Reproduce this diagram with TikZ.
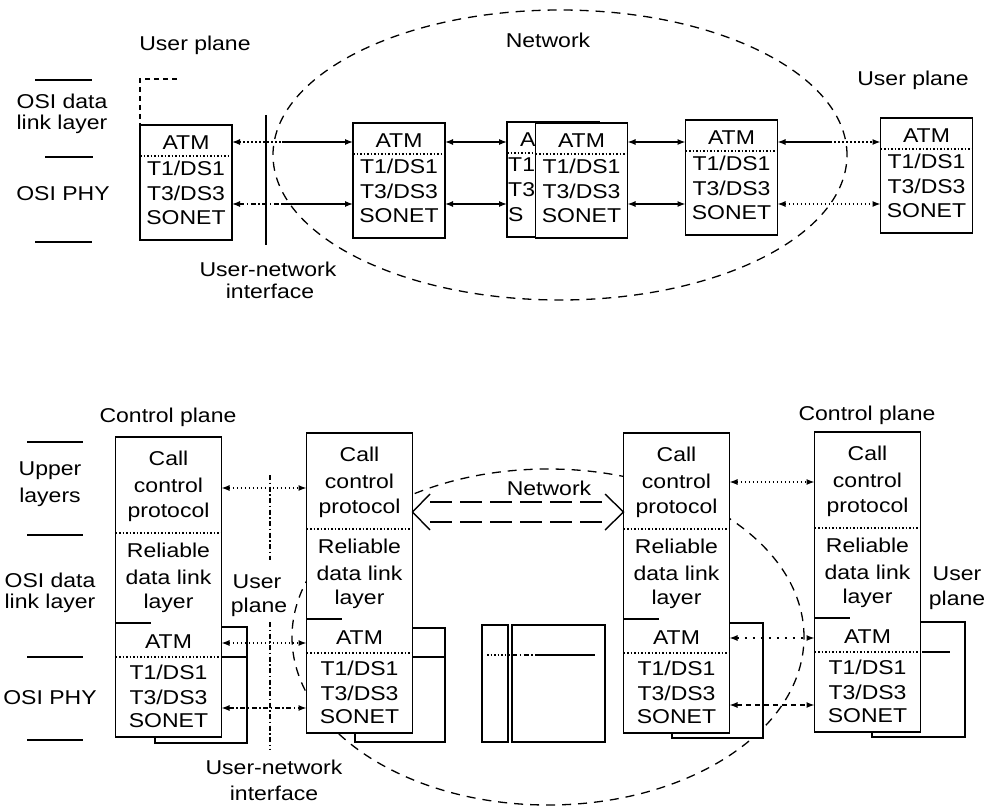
\documentclass[tikz,border=0pt]{standalone}
\usepackage{fontspec}
\setmainfont{Liberation Sans}[FakeStretch=1.15]
\usetikzlibrary{arrows.meta,calc}
\tikzset{
  pbox/.style={draw, line width=1.5pt, fill=white, inner sep=0pt, outer sep=0pt},
  txt/.style={font=\fontsize{20}{22}\selectfont, inner sep=0pt},
  divd/.style={line width=1.2pt, dash pattern=on 1.5pt off 2pt},
  lay/.style={line width=1.4pt},
  tipL/.style={line width=1.3pt, {Latex[length=8pt,width=6pt]}-},
  tipR/.style={line width=1.3pt, -{Latex[length=8pt,width=6pt]}},
  arr/.style={line width=1.3pt, {Latex[length=8pt,width=6pt]}-{Latex[length=8pt,width=6pt]}},
  dotl/.style={dash pattern=on 1.5pt off 2.5pt},
  ddot/.style={dash pattern=on 5pt off 2.5pt on 1.5pt off 2.5pt},
  dshl/.style={dash pattern=on 5pt off 4pt},
  net/.style={line width=1.3pt, dash pattern=on 9pt off 7pt},
  longd/.style={line width=1.4pt, dash pattern=on 22pt off 8pt},
}
\newcommand\atmstack[3]{%
  \node[pbox, minimum width=92pt, minimum height=115pt, anchor=north] (#1) at (#2,#3) {};
  \draw[divd] ([yshift=-31pt]#1.north west) -- ([yshift=-31pt]#1.north east);
  \node[txt] (#1-a) at ([yshift=-18pt]#1.north) {ATM};
  \node[txt] (#1-b) at ([yshift=-43pt]#1.north) {T1/DS1};
  \node[txt] (#1-c) at ([yshift=-68pt]#1.north) {T3/DS3};
  \node[txt] (#1-d) at ([yshift=-93pt]#1.north) {SONET};
}
\newcommand\cstack[3]{%
  \node[pbox, minimum width=106pt, minimum height=300pt, anchor=north] (#1) at (#2,#3) {};
  \node[txt] (#1-1) at ([yshift=-21pt]#1.north) {Call};
  \node[txt] (#1-2) at ([yshift=-48pt]#1.north) {control};
  \node[txt] (#1-3) at ([yshift=-75pt]#1.north) {protocol};
  \node[txt] (#1-4) at ([yshift=-113pt]#1.north) {Reliable};
  \node[txt] (#1-5) at ([yshift=-140pt]#1.north) {data link};
  \node[txt] (#1-6) at ([yshift=-166pt]#1.north) {layer};
  \node[txt] (#1-7) at ([yshift=-205pt]#1.north) {ATM};
  \node[txt] (#1-8) at ([yshift=-235pt]#1.north) {T1/DS1};
  \node[txt] (#1-9) at ([yshift=-260pt]#1.north) {T3/DS3};
  \node[txt] (#1-10) at ([yshift=-284pt]#1.north) {SONET};
  \draw[divd] ([yshift=-96pt]#1.north west) -- ([yshift=-96pt]#1.north east);
  \draw[divd] ([yshift=-220pt]#1.north west) -- ([yshift=-220pt]#1.north east);
  \draw[lay] ([yshift=-186pt]#1.north west) -- ([yshift=-186pt,xshift=35pt]#1.north west);
}
\begin{document}
\begin{tikzpicture}[x=1pt,y=-1pt]
\path[use as bounding box] (0,0) rectangle (989,808);

% ================= TOP =================
\draw[lay] (35,80) -- (92,80);
\node[txt] (tl1) at (62,101) {OSI data};
\node[txt] (tl2) at (62,124) {link layer};
\draw[lay] (45,157) -- (93,157);
\node[txt] (tl3) at (63,194) {OSI PHY};
\draw[lay] (35,242) -- (92,242);

\node[txt] (tup1) at (195,45) {User plane};
\node[txt] (tup2) at (913,80) {User plane};
\node[txt] (tnet) at (548,40) {Network};

\draw[net] (560,155) ellipse [x radius=287pt, y radius=145pt];

\atmstack{b1}{186}{125}
\atmstack{b2}{399}{123}
% partly hidden switch box
\node[pbox, minimum width=92pt, minimum height=115pt, anchor=north] (b3) at (553,122) {};
\draw[divd] ([yshift=-31pt]b3.north west) -- ([yshift=-31pt]b3.north east);
\node[txt, anchor=west] (b3-a) at (520,140) {A};
\node[txt, anchor=west] (b3-b) at (508,165) {T1};
\node[txt, anchor=west] (b3-c) at (508,190) {T3};
\node[txt, anchor=west] (b3-d) at (508,215) {S};
\atmstack{b4}{581.5}{123}
\atmstack{b5}{731.5}{120}
\atmstack{b6}{926.5}{118}

\coordinate (up1) at (177,79);
\draw[lay, dshl] (up1) -- (b1.north west |- up1) -- (b1.north west);

\coordinate (u1) at (266,115);
\coordinate (u2) at (266,245);
\draw[line width=1.5pt] (u1) -- (u2);
\node[txt] (tuni1) at (268,269) {User-network};
\node[txt] (tuni2) at (270,291) {interface};

\coordinate (r1) at (0,142);
\coordinate (r2) at (0,204);
\coordinate (m1) at (282,142);
\coordinate (m2) at (282,204);
\coordinate (m3) at (830,142);
\draw[tipL, dotl] (b1.east|-r1) -- (m1);
\draw[tipR] (m1) -- (b2.west|-r1);
\draw[tipL, ddot] (b1.east|-r2) -- (m2);
\draw[tipR] (m2) -- (b2.west|-r2);
\draw[arr] (b2.east|-r1) -- (b3.west|-r1);
\draw[arr] (b2.east|-r2) -- (b3.west|-r2);
\draw[arr] (b4.east|-r1) -- (b5.west|-r1);
\draw[arr] (b4.east|-r2) -- (b5.west|-r2);
\draw[tipL] (b5.east|-r1) -- (m3);
\draw[tipR, dotl] (m3) -- (b6.west|-r1);
\draw[arr, dotl] (b5.east|-r2) -- (b6.west|-r2);

% ================= BOTTOM =================
\draw[lay] (27,442) -- (83,442);
\node[txt] (bl1) at (50,471) {Upper};
\node[txt] (bl2) at (50,497) {layers};
\draw[lay] (27,535) -- (83,535);
\node[txt] (bl3) at (50,580) {OSI data};
\node[txt] (bl4) at (50,603) {link layer};
\draw[lay] (27,657) -- (83,657);
\node[txt] (bl5) at (50,698) {OSI PHY};
\draw[lay] (27,740) -- (83,740);

\node[txt] (tcp1) at (168,417) {Control plane};
\node[txt] (tcp2) at (867,415) {Control plane};
\node[txt] (tupm1) at (257,582) {User};
\node[txt] (tupm2) at (259,607) {plane};
\node[txt] (tupr1) at (957,574) {User};
\node[txt] (tupr2) at (957,600) {plane};
\node[txt] (tnet2) at (549,488) {Network};

\draw[net] (548,637) ellipse [x radius=256pt, y radius=168pt];

% back (user plane) boxes
\node[pbox, minimum width=92pt, minimum height=116pt] (k1) at (201,685) {};
\draw[lay] (222,657) -- (k1.east |- 0,657);
\node[pbox, minimum width=90pt, minimum height=114pt] (k2) at (400,685) {};
\draw[lay] (412,657) -- (k2.east |- 0,657);
\node[pbox, minimum width=91pt, minimum height=115pt] (k3) at (717.5,680.5) {};
\node[pbox, minimum width=93pt, minimum height=115pt] (k4) at (918.5,679.5) {};
\draw[lay] (922,652) -- (950,652);

% middle network user-plane boxes
\node[pbox, minimum width=26pt, minimum height=117pt] (n1) at (495,683.5) {};
\node[pbox, minimum width=93pt, minimum height=117pt] (n2) at (558.5,683.5) {};
\draw[divd] (487,655) -- (n2.west |- 0,655);
\draw[line width=1.2pt, ddot] (n2.west |- 0,655) -- (535,655);
\draw[lay] (535,655) -- (595,655);

% control stacks
\cstack{L1}{168.5}{437}
\cstack{L2}{359.5}{433}
\cstack{R1}{676.5}{433}
\cstack{R2}{867.5}{432}

% UNI line
\coordinate (v1) at (270,475);
\coordinate (v2) at (270,560);
\coordinate (v3) at (270,622);
\coordinate (v4) at (270,750);
\draw[line width=1.3pt, ddot] (v1) -- (v2);
\draw[line width=1.3pt, ddot] (v3) -- (v4);
\node[txt] (tuni3) at (274,767) {User-network};
\node[txt] (tuni4) at (274,793) {interface};

% arrows left
\coordinate (p1) at (0,488);
\coordinate (p2) at (0,643);
\coordinate (p3) at (0,708);
\draw[arr, dotl] (L1.east|-p1) -- (L2.west|-p1);
\draw[arr, dotl] (L1.east|-p2) -- (L2.west|-p2);
\draw[arr, ddot] (L1.east|-p3) -- (L2.west|-p3);

% arrows right
\coordinate (q1) at (0,482);
\coordinate (q2) at (0,638);
\coordinate (q3) at (0,705);
\draw[arr, dotl] (R1.east|-q1) -- (R2.west|-q1);
\draw[arr, dash pattern=on 2pt off 6pt] (R1.east|-q2) -- (R2.west|-q2);
\draw[arr, dshl] (R1.east|-q3) -- (R2.west|-q3);

% network double arrow
\coordinate (w0) at (0,512);
\coordinate (wa) at (0,502);
\coordinate (wb) at (0,522);
\coordinate (ca) at (430,494);
\coordinate (cb) at (430,530);
\coordinate (cc) at (605,494);
\coordinate (cd) at (605,530);
\draw[line width=1.4pt] (ca) -- (L2.east|-w0) -- (cb);
\draw[line width=1.4pt] (cc) -- (R1.west|-w0) -- (cd);
\draw[longd] (ca|-wa) -- (cc|-wa);
\draw[longd] (ca|-wb) -- (cc|-wb);

\end{tikzpicture}
\end{document}
